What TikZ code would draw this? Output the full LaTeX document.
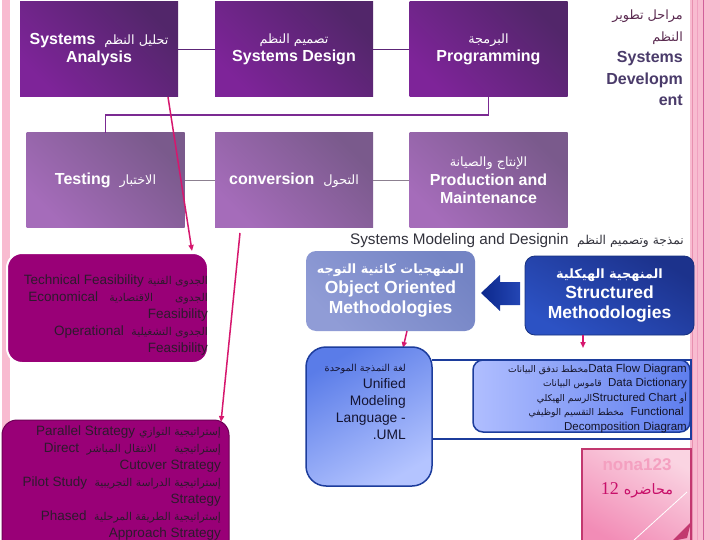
\documentclass[tikz,border=0pt]{standalone}
\usepackage{fontspec}
\setmainfont{Liberation Sans}
\newfontfamily\arabicfont[Script=Arabic,Scale=0.8]{DejaVu Sans}
\newfontfamily\serifnum{Liberation Serif}
\TeXXeTstate=1
\usetikzlibrary{arrows.meta}
\newcommand{\AR}[1]{{\arabicfont\mdseries\beginR #1\endR}}
\newcommand{\ARB}[1]{{\fontsize{16}{20}\selectfont\arabicfont\bfseries\beginR #1\endR}}
\definecolor{pinkbar}{HTML}{F8BBD0}
\definecolor{topA}{HTML}{52266A}
\definecolor{topB}{HTML}{7E2499}
\definecolor{midA}{HTML}{7A5A8C}
\definecolor{midB}{HTML}{A56CBA}
\definecolor{conA}{HTML}{5C2577}
\definecolor{conB}{HTML}{7B2A92}
\definecolor{conG}{HTML}{8C8090}
\definecolor{magbox}{HTML}{990077}
\definecolor{magline}{HTML}{D6176E}
\definecolor{darktxt}{HTML}{2D1A2D}
\definecolor{titletxt}{HTML}{4A3B6A}
\definecolor{navy}{HTML}{1C3C9C}
\definecolor{notebd}{HTML}{C2386F}
\tikzset{
  topbox/.style={minimum width=158pt, minimum height=95pt, inner sep=0pt, text=white, align=center,
    font=\fontsize{16}{18.5}\selectfont\bfseries, top color=topA, bottom color=topB, shading angle=-45},
  midbox/.style={topbox, top color=midA, bottom color=midB, shading angle=-45},
  magrect/.style={fill=magbox, rounded corners=15pt, inner sep=0pt},
  magtxt/.style={text=darktxt, align=right, inner sep=0pt, font=\fontsize{13.5}{17}\selectfont},
  magarrow/.style={draw=magline, line width=1.5pt, -{Triangle[length=6pt,width=5pt]}},
  bluebold/.style={text=white, align=center, font=\fontsize{17.5}{20}\selectfont\bfseries, inner sep=0pt}
}
\begin{document}
\begin{tikzpicture}[x=1pt,y=-1pt]
\useasboundingbox (0,0) rectangle (720,540);
\fill[white] (0,0) rectangle (720,540);
% side bars
\fill[pinkbar] (2,0) rectangle (10,540);
\fill[pinkbar] (690,0) rectangle (720,540);
\draw[line width=1pt, color={rgb,255:red,232;green,144;blue,176}] (692,0) -- (692,540);
\draw[line width=0.8pt, color={rgb,255:red,240;green,160;blue,192}] (697,0) -- (697,540);
\draw[line width=1pt, color={rgb,255:red,208;green,96;blue,154}] (703,0) -- (703,540);

% top row
\node[topbox] (b1) at (99,49.5) {Systems\ \ \AR{تحليل النظم}\\Analysis};
\node[topbox] (b2) at (294,49.5) {\AR{تصميم النظم}\\Systems Design};
\node[topbox] (b3) at (488.5,49.5) {\AR{البرمجة}\\Programming};
% second row
\node[midbox] (t1) at (105.5,180.5) {Testing\ \ \AR{الاختبار}};
\node[midbox] (t2) at (294,180.5) {conversion\ \ \AR{التحول}};
\node[midbox] (t3) at (488.5,180.5) {\AR{الإنتاج والصيانة}\\Production and\\Maintenance};

% connectors
\draw[conA, line width=1.5pt] (b1.east) -- (b2.west);
\draw[conA, line width=1.5pt] (b2.east) -- (b3.west);
\draw[conB, line width=1.5pt] (b3.south) -- ++(0,18) -| (t1.north);
\draw[conG, line width=1.5pt] (t1.east) -- (t2.west);
\draw[conG, line width=1.5pt] (t2.east) -- (t3.west);

% title right
\node[anchor=north east, align=right, inner sep=0pt, text=titletxt,
      font=\fontsize{16}{21.5}\selectfont\bfseries] (title) at (683,10)
  {\textcolor[HTML]{5A2A50}{\AR{مراحل تطوير}}\\\textcolor[HTML]{5A2A50}{\AR{النظم}}\\Systems\\Developm\\ent};

% heading
\node[anchor=east, inner sep=0pt, text={rgb,255:red,50;green,50;blue,60},
      font=\fontsize{15.3}{18}\selectfont] (head) at (684,241)
  {Systems Modeling and Designin\ \ \AR{نمذجة وتصميم النظم}};

% feasibility box
\node[magrect, draw=white, line width=2pt, minimum width=201pt, minimum height=110pt] (fe) at (107.5,308) {};
\node[magtxt, anchor=north east] (fet) at (208,275)
  {Technical Feasibility \AR{الجدوى الفنية}\\
   Economical\ \ \ \AR{الجدوى\hspace{22pt}الاقتصادية}\\
   Feasibility\\
   Operational\ \ \AR{الجدوى التشغيلية}\\
   Feasibility};

% strategy box
\node[magrect, draw={rgb,255:red,110;green,0;blue,85}, line width=1pt, minimum width=227pt, minimum height=140pt] (st) at (115.5,490) {};
\node[magtxt, anchor=north east] (stt) at (221,426)
  {Parallel Strategy \AR{إستراتيجية التوازي}\\
   Direct\ \ \AR{إستراتيجية\hspace{18pt}الانتقال المباشر}\\
   Cutover Strategy\ \\
   Pilot Study\ \ \AR{إستراتيجية الدراسة التجريبية}\\
   Strategy\ \\
   Phased\ \ \AR{إستراتيجية الطريقة المرحلية}\\
   Approach Strategy\ };

% magenta lines
\coordinate (m1) at (168,97);
\coordinate (m2) at (192,251);
\draw[magarrow] (m1) -- (m2);
\coordinate (m3) at (240,233);
\coordinate (m4) at (221,422);
\draw[magarrow] (m3) -- (m4);

% object oriented box
\node[rounded corners=10pt, minimum width=169pt, minimum height=80pt, inner sep=0pt,
      top color={rgb,255:red,116;green,132;blue,196}, bottom color={rgb,255:red,144;green,156;blue,214}, shading angle=-45] (oo) at (390.5,291) {};
\node[bluebold] (oot) at (390.5,290) {\ARB{المنهجيات كائنية التوجه}\\Object Oriented\\Methodologies};

% structured box
\node[rounded corners=10pt, minimum width=169pt, minimum height=79pt, inner sep=0pt, draw={rgb,255:red,22;green,48;blue,127}, line width=0.8pt,
      top color={rgb,255:red,28;green,50;blue,140}, bottom color={rgb,255:red,44;green,82;blue,196}, shading angle=-30] (sm) at (609.5,295.5) {};
\node[bluebold] (smt) at (609.5,295) {\ARB{المنهجية الهيكلية}\\Structured\\Methodologies};

% big arrow
\shade[left color={rgb,255:red,12;green,40;blue,140}, right color={rgb,255:red,36;green,70;blue,180}]
  (481,293) -- (500,275) -- (500,282) -- (520,282) -- (520,305) -- (500,305) -- (500,311) -- cycle;

% small arrows
\coordinate (o1) at (407,331);
\coordinate (o2) at (403,348);
\draw[magarrow] (o1) -- (o2);
\coordinate (s1) at (583,335);
\coordinate (s2) at (583,348);
\draw[magarrow] (s1) -- (s2);

% UML box
\node[rounded corners=20pt, minimum width=126pt, minimum height=139pt, inner sep=0pt, draw=navy, line width=1.5pt,
      top color={rgb,255:red,90;green,124;blue,232}, bottom color={rgb,255:red,180;green,196;blue,255}, shading angle=30] (uml) at (369,416.5) {};
\node[anchor=north east, align=right, inner sep=0pt, text={rgb,255:red,20;green,20;blue,50},
      font=\fontsize{13.8}{17}\selectfont] (umlt) at (406,364)
  {{\fontsize{12}{17}\selectfont\AR{لغة النمذجة الموحدة}}\\Unified\\Modeling\\Language -\\.UML};

% DFD frame and box
\coordinate (f1) at (691,360);
\coordinate (f2) at (691,439);
\coordinate (f3) at (432,439);
\coordinate (f0) at (432,360);
\draw[navy, line width=1.5pt] (f0) -- (f1) -- (f2) -- (f3);
\node[rounded corners=10pt, minimum width=217pt, minimum height=72pt, inner sep=0pt, draw=navy, line width=1.5pt,
      left color={rgb,255:red,176;green,190;blue,255}, right color={rgb,255:red,94;green,126;blue,238}] (dfd) at (581.5,396) {};
\node[anchor=north east, align=right, inner sep=0pt, text={rgb,255:red,20;green,20;blue,40},
      font=\fontsize{11.5}{14.5}\selectfont] (dfdt) at (687,363.5)
  {\AR{مخطط تدفق البيانات}Data Flow Diagram\\
   \AR{قاموس البيانات}\ \ Data Dictionary\ \ \\
   \AR{الرسم الهيكلي}Structured Chart \AR{أو}\ \ \\
   \AR{مخطط التقسيم الوظيفي}\ \ Functional\ \ \ \\
   Decomposition Diagram\ };

% note
\shade[top color={rgb,255:red,250;green,212;blue,226}, bottom color={rgb,255:red,242;green,140;blue,182}, shading angle=-30]
  (582,449) rectangle (691,545);
\draw[notebd, line width=2pt] (582,545) -- (582,449) -- (691,449) -- (691,545);
\draw[white, line width=0.8pt] (687,492) -- (633,541);
\fill[notebd] (672,541) -- (691,522) -- (687,538) -- cycle;
\node[text={rgb,255:red,244;green,160;blue,192}, font=\fontsize{17}{20}\selectfont\bfseries, inner sep=0pt] (n1) at (637,465) {nona123};
\node[text={rgb,255:red,200;green,16;blue,106}, font=\fontsize{18}{20}\selectfont, inner sep=0pt] (n2) at (637,490)
  {{\serifnum 12} {\arabicfont\beginR محاضره\endR}};
\end{tikzpicture}
\end{document}
